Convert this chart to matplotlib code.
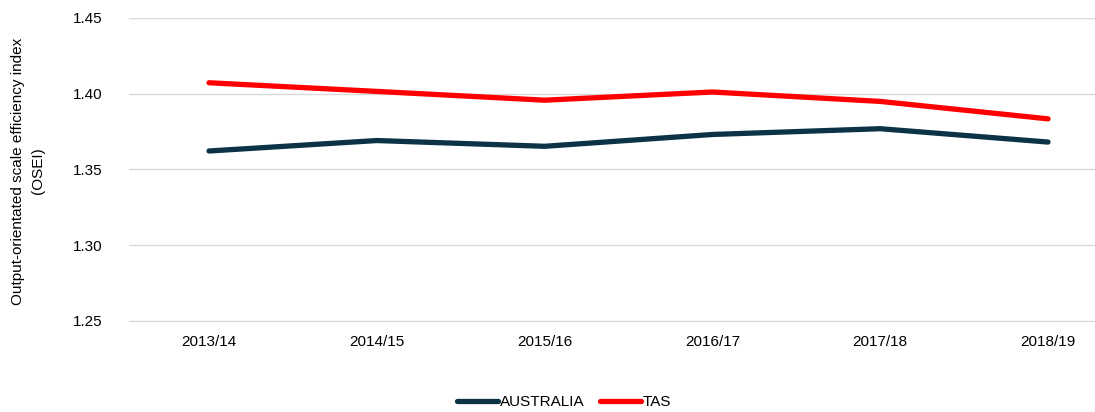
import matplotlib
matplotlib.use('Agg')
import matplotlib.pyplot as plt
from matplotlib.lines import Line2D

plt.rcParams['font.family'] = ['Liberation Sans', 'DejaVu Sans']

years = ['2013/14', '2014/15', '2015/16', '2016/17', '2017/18', '2018/19']
australia = [1.3621, 1.3690, 1.3652, 1.3730, 1.3768, 1.3680]
tas = [1.4071, 1.4014, 1.3956, 1.4010, 1.3948, 1.3833]

col_aus = '#0b3246'
col_tas = '#ff0000'
grid_col = '#d9d9d9'

fig = plt.figure(figsize=(10.95, 4.12), dpi=100)
ax = fig.add_axes([129 / 1095, 1 - 321 / 412, (1095 - 129) / 1095, (321 - 17.7) / 412])

x = range(len(years))
ax.plot(x, australia, color=col_aus, lw=3.8, solid_capstyle='round', zorder=3)
ax.plot(x, tas, color=col_tas, lw=3.8, solid_capstyle='round', zorder=3)

ax.set_xlim(-0.477, 5.28)
ax.set_ylim(1.25, 1.45)
ax.set_yticks([1.25, 1.30, 1.35, 1.40, 1.45])
ax.set_yticklabels(['{:.2f}'.format(v) for v in [1.25, 1.30, 1.35, 1.40, 1.45]])
ax.set_xticks(list(x))
ax.set_xticklabels(years)
ax.grid(axis='y', color=grid_col, lw=1)
ax.set_axisbelow(True)
for s in ['top', 'right', 'left']:
    ax.spines[s].set_visible(False)
ax.spines['bottom'].set_color(grid_col)
ax.tick_params(axis='both', length=0, labelsize=11, colors='#000000')
ax.tick_params(axis='y', pad=19)
ax.tick_params(axis='x', pad=10)

fig.text(0.0255, (1 - 171 / 412), 'Output-orientated scale efficiency index\n(OSEI)',
         rotation=90, ha='center', va='center', fontsize=11, multialignment='center',
         linespacing=1.55)

handles = [Line2D([], [], color=col_aus, lw=3.8, solid_capstyle='round'),
           Line2D([], [], color=col_tas, lw=3.8, solid_capstyle='round')]
fig.legend(handles, ['AUSTRALIA', 'TAS'], loc='center', bbox_to_anchor=(0.515, 1 - 402 / 412),
           ncol=2, frameon=False, fontsize=11, handlelength=2.7, handletextpad=0.1,
           columnspacing=1.0)

fig.savefig('out.png', dpi=100)
